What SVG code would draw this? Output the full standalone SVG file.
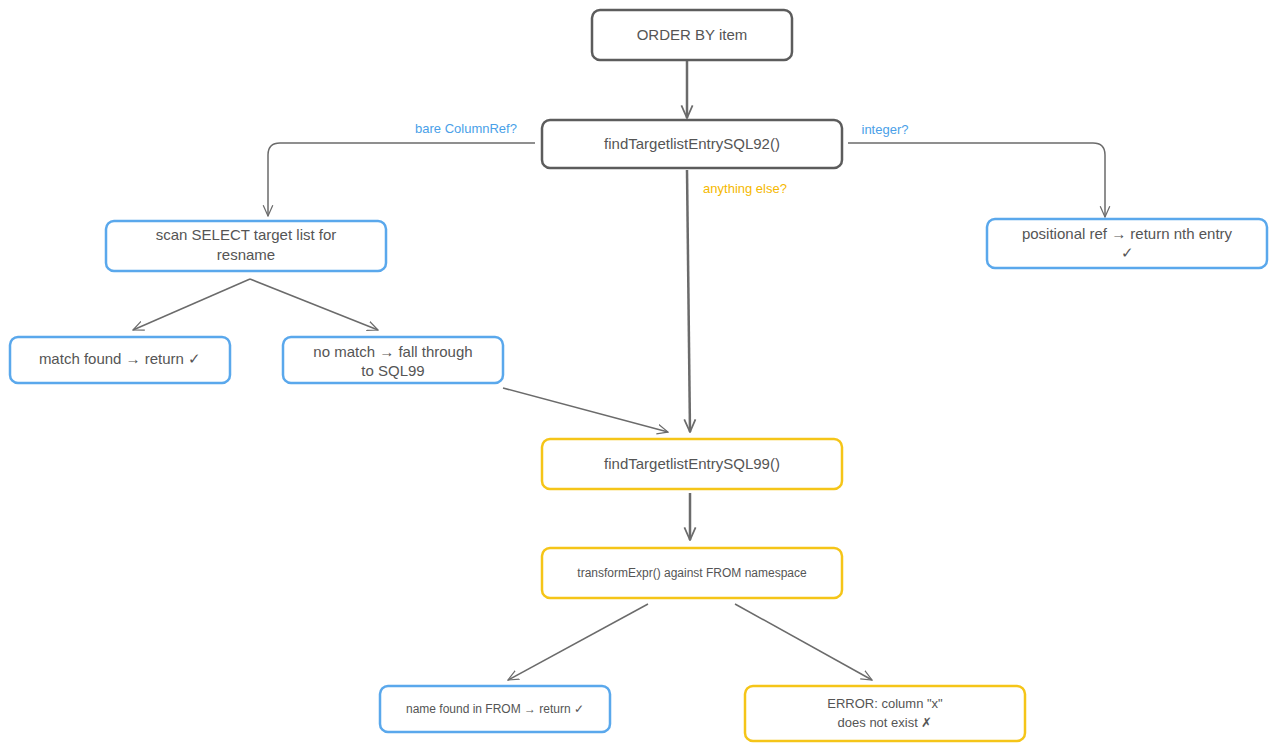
<svg xmlns="http://www.w3.org/2000/svg" width="1277" height="751" viewBox="0 0 1277 751">
<style>
.n{fill:#fff;stroke-width:2.5}
.g{stroke:#5c5c5c}
.b{stroke:#5aa8ec}
.y{stroke:#f5c518}
text{font-family:"Liberation Sans",Arial,sans-serif;fill:#555;text-anchor:middle;font-size:15px}
.c path{fill:none;stroke:#6b6b6b;stroke-width:1.5}
.c .t{stroke-width:2.5}
.lb{font-size:13px;fill:#4a9fe8;text-anchor:middle}
.ly{font-size:13px;fill:#f5b800;text-anchor:middle}
</style>
<defs>
<marker id="a" viewBox="0 0 20 20" refX="18" refY="10" markerWidth="12" markerHeight="12" orient="auto" markerUnits="userSpaceOnUse"><path d="M0,2 L18,10 L0,18" fill="none" stroke="#6b6b6b" stroke-width="2"/></marker>
<marker id="at" viewBox="0 0 20 20" refX="18" refY="10" markerWidth="14" markerHeight="14" orient="auto" markerUnits="userSpaceOnUse"><path d="M0,2 L18,10 L0,18" fill="none" stroke="#6b6b6b" stroke-width="2.5"/></marker>
</defs>
<rect width="1277" height="751" fill="#fff"/>
<g class="c">
<path class="t" d="M687,60 L687,118" marker-end="url(#at)"/>
<path d="M535,143 L280,143 Q268,143 268,155 L268,216" marker-end="url(#a)"/>
<path d="M848,143 L1093,143 Q1105,143 1105,155 L1105,217" marker-end="url(#a)"/>
<path class="t" d="M687,170 L690,432" marker-end="url(#at)"/>
<path d="M250,279 L133,330" marker-end="url(#a)"/>
<path d="M250,279 L378,330" marker-end="url(#a)"/>
<path d="M503,388 L668,432" marker-end="url(#a)"/>
<path class="t" d="M690,493 L690,540" marker-end="url(#at)"/>
<path d="M648,604 L508,680" marker-end="url(#a)"/>
<path d="M735,604 L872,680" marker-end="url(#a)"/>
<text class="lb" x="466" y="133">bare ColumnRef?</text>
<text class="lb" x="885" y="134">integer?</text>
<text class="ly" x="745" y="193">anything else?</text>
</g>
<g id="n1"><rect class="n g" x="592" y="10" width="200" height="50" rx="8"/><text x="692" y="40">ORDER BY item</text></g>
<g id="n2"><rect class="n g" x="542" y="120" width="300" height="48" rx="8"/><text x="692" y="149">findTargetlistEntrySQL92()</text></g>
<g id="n3"><rect class="n b" x="106" y="221" width="280" height="50" rx="8"/><text x="246" y="240">scan SELECT target list for</text><text x="246" y="260">resname</text></g>
<g id="n4"><rect class="n b" x="987" y="219" width="280" height="49" rx="8"/><text x="1127" y="239">positional ref → return nth entry</text><text x="1127" y="258">✓</text></g>
<g id="n5"><rect class="n b" x="10" y="337" width="220" height="46" rx="8"/><text x="120" y="364">match found → return ✓</text></g>
<g id="n6"><rect class="n b" x="283" y="337" width="220" height="46" rx="8"/><text x="393" y="357">no match → fall through</text><text x="393" y="376">to SQL99</text></g>
<g id="n7"><rect class="n y" x="542" y="439" width="300" height="50" rx="8"/><text x="692" y="469">findTargetlistEntrySQL99()</text></g>
<g id="n8"><rect class="n y" x="542" y="548" width="300" height="50" rx="8"/><text x="692" y="577" style="font-size:12px">transformExpr() against FROM namespace</text></g>
<g id="n9"><rect class="n b" x="380" y="686" width="230" height="46" rx="8"/><text x="495" y="713" style="font-size:12px">name found in FROM → return ✓</text></g>
<g id="n10"><rect class="n y" x="745" y="686" width="280" height="55" rx="8"/><text x="885" y="708" style="font-size:13px">ERROR: column "x"</text><text x="885" y="727" style="font-size:13px">does not exist ✗</text></g>
</svg>
